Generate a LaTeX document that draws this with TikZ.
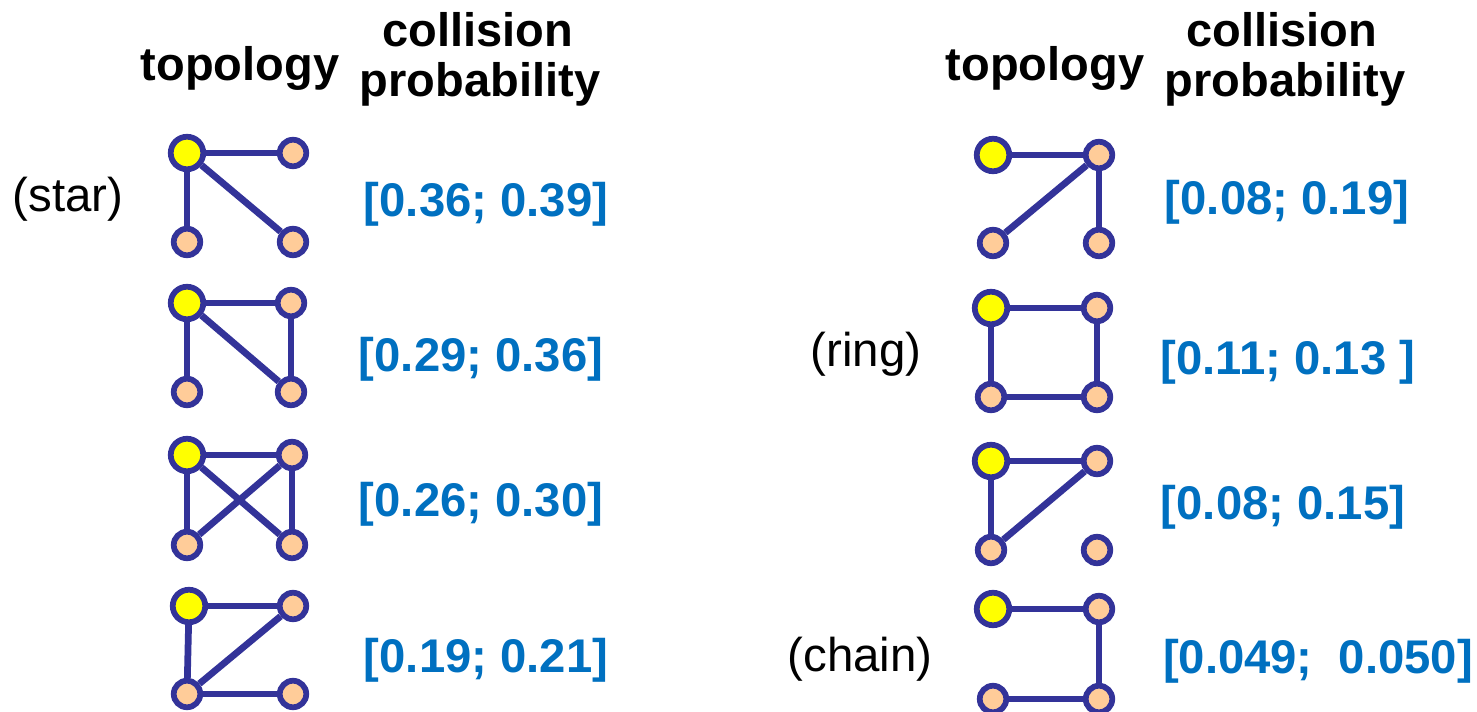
\documentclass[tikz,border=0pt]{standalone}
\usepackage{fontspec}
\setmainfont{Liberation Sans}
\definecolor{gnavy}{RGB}{51,51,153}
\definecolor{gyellow}{RGB}{255,255,0}
\definecolor{gpeach}{RGB}{255,204,153}
\definecolor{pblue}{RGB}{0,112,192}
\usetikzlibrary{positioning}

\begin{document}
\begin{tikzpicture}[
  x=0.02cm, y=-0.02cm,
  src/.style={draw=gnavy, fill=gyellow, circle, line width=0.115cm, minimum size=0.65cm, inner sep=0pt},
  nd/.style={draw=gnavy, fill=gpeach, circle, line width=0.115cm, minimum size=0.53cm, inner sep=0pt},
  ed/.style={draw=gnavy, line width=0.135cm},
  hdr/.style={anchor=base, inner sep=0pt, font=\fontsize{26.75}{32}\selectfont\bfseries},
  lbl/.style={anchor=base, inner sep=0pt, font=\fontsize{27}{32}\selectfont},
  prob/.style={anchor=base, inner sep=0pt, text=pblue, font=\fontsize{26.9}{32}\selectfont\bfseries}
]
  \useasboundingbox (0,0) rectangle (1477,712);

  %% Column headers
  \node[hdr] (topL) at (240,81) {topology};
  \node[hdr] (colL) at (478,47) {collision};
  \node[hdr] (prbL) at (480,97) {probability};
  \node[hdr] (topR) at (1045,81) {topology};
  \node[hdr] (colR) at (1282,47) {collision};
  \node[hdr] (prbR) at (1285,97) {probability};

  %% Left 1: star
  \node[src] (a0) at (187,153) {};
  \node[nd] (a1) at (293,153) {};
  \node[nd] (a2) at (187,242) {};
  \node[nd] (a3) at (293,242) {};
  \draw[ed] (a0) -- (a1);
  \draw[ed] (a0) -- (a2);
  \draw[ed] (a0) -- (a3);
  \node[lbl] (starL) at (68,212) {(star)};
  \node[prob] (pa) at (486,217) {[0.36; 0.39]};

  %% Left 2
  \node[src] (b0) at (187,303) {};
  \node[nd] (b1) at (291,303) {};
  \node[nd] (b2) at (187,392) {};
  \node[nd] (b3) at (291,392) {};
  \draw[ed] (b0) -- (b1);
  \draw[ed] (b0) -- (b2);
  \draw[ed] (b0) -- (b3);
  \draw[ed] (b1) -- (b3);
  \node[prob] (pb) at (481,372) {[0.29; 0.36]};

  %% Left 3
  \node[src] (c0) at (187,455) {};
  \node[nd] (c1) at (292,455) {};
  \node[nd] (c2) at (187,545) {};
  \node[nd] (c3) at (292,545) {};
  \draw[ed] (c0) -- (c1);
  \draw[ed] (c0) -- (c2);
  \draw[ed] (c0) -- (c3);
  \draw[ed] (c1) -- (c3);
  \draw[ed] (c1) -- (c2);
  \node[prob] (pc) at (481,517) {[0.26; 0.30]};

  %% Left 4
  \node[src] (d0) at (189,606) {};
  \node[nd] (d1) at (293,606) {};
  \node[nd] (d2) at (187,694) {};
  \node[nd] (d3) at (293,694) {};
  \draw[ed] (d0) -- (d1);
  \draw[ed] (d0) -- (d2);
  \draw[ed] (d1) -- (d2);
  \draw[ed] (d2) -- (d3);
  \node[prob] (pd) at (486,672) {[0.19; 0.21]};

  %% Right 1
  \node[src] (e0) at (993,155) {};
  \node[nd] (e1) at (1099,155) {};
  \node[nd] (e2) at (993,243) {};
  \node[nd] (e3) at (1099,243) {};
  \draw[ed] (e0) -- (e1);
  \draw[ed] (e1) -- (e2);
  \draw[ed] (e1) -- (e3);
  \node[prob] (pe) at (1287,215) {[0.08; 0.19]};

  %% Right 2: ring
  \node[src] (f0) at (991,308) {};
  \node[nd] (f1) at (1097,308) {};
  \node[nd] (f2) at (991,397) {};
  \node[nd] (f3) at (1097,397) {};
  \draw[ed] (f0) -- (f1);
  \draw[ed] (f0) -- (f2);
  \draw[ed] (f1) -- (f3);
  \draw[ed] (f2) -- (f3);
  \node[lbl] (ringL) at (866,367) {(ring)};
  \node[prob] (pf) at (1288,375) {[0.11; 0.13 ]};

  %% Right 3
  \node[src] (g0) at (991,461) {};
  \node[nd] (g1) at (1097,461) {};
  \node[nd] (g2) at (991,550) {};
  \node[nd] (g3) at (1097,550) {};
  \draw[ed] (g0) -- (g1);
  \draw[ed] (g0) -- (g2);
  \draw[ed] (g1) -- (g2);
  \node[prob] (pg) at (1283,520) {[0.08; 0.15]};

  %% Right 4: chain
  \node[src] (h0) at (993,609) {};
  \node[nd] (h1) at (1099,609) {};
  \node[nd] (h2) at (993,699) {};
  \node[nd] (h3) at (1099,699) {};
  \draw[ed] (h0) -- (h1);
  \draw[ed] (h1) -- (h3);
  \draw[ed] (h3) -- (h2);
  \node[lbl] (chainL) at (860,671) {(chain)};
  \node[prob] (ph) at (1318,673) {[0.049;\ \ 0.050]};
\end{tikzpicture}
\end{document}
